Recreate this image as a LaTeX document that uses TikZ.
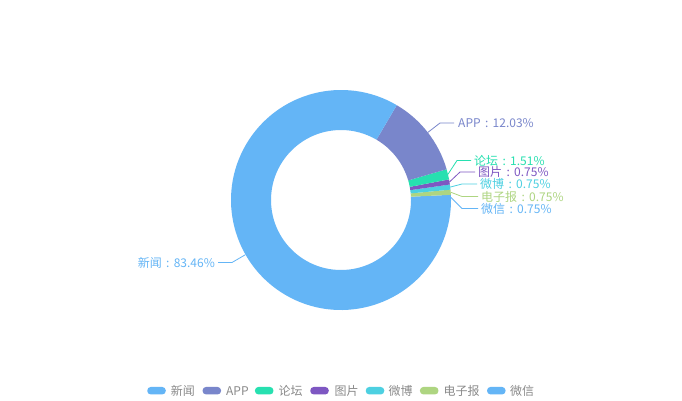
\documentclass[tikz,border=0pt]{standalone}
\usepackage{fontspec}
\usetikzlibrary{calc}
\setmainfont{Noto Sans CJK SC}
\definecolor{cXW}{HTML}{64B5F6}
\definecolor{cAPP}{HTML}{7986CB}
\definecolor{cLT}{HTML}{27E0B0}
\definecolor{cTP}{HTML}{7E57C2}
\definecolor{cWB}{HTML}{4DD0E1}
\definecolor{cDZB}{HTML}{AED581}
\definecolor{cWX}{HTML}{64B5F6}
\definecolor{legtext}{HTML}{8A8A8A}
\newcommand{\wcolon}{\makebox[12pt]{:}}
\begin{document}
\begin{tikzpicture}[x=1pt,y=1pt,
  lbl/.style={font=\fontsize{12}{14}\selectfont, inner sep=0pt},
  leader/.style={line width=0.8pt},
  legicon/.style={rounded corners=3.5pt, minimum width=18.5pt, minimum height=7.5pt, inner sep=0pt},
  legtxt/.style={font=\fontsize{12}{14}\selectfont, text=legtext, inner sep=0pt, anchor=west}]
\useasboundingbox (0,0) rectangle (682,400);
\fill[white] (0,0) rectangle (682,400);
\coordinate (c) at (341,200);
% slices: start angle, end angle
\foreach \a/\b/\col in {0/2.7/cWX, 2.7/5.4/cDZB, 5.4/8.1/cWB, 8.1/10.8/cTP, 10.8/16.236/cLT, 16.236/59.544/cAPP, 59.544/360/cXW}{
  \fill[\col] ($(c)+(\a:110)$) arc[start angle=\a, end angle=\b, radius=110] -- ($(c)+(\b:70)$) arc[start angle=\b, end angle=\a, radius=70] -- cycle;
}
% leader anchor points on outer edge
\coordinate (pAPP) at ($(c)+(37.89:110)$);
\coordinate (pLT) at ($(c)+(13.52:110)$);
\coordinate (pTP) at ($(c)+(9.45:110)$);
\coordinate (pWB) at ($(c)+(6.75:110)$);
\coordinate (pDZB) at ($(c)+(4.05:110)$);
\coordinate (pWX) at ($(c)+(1.35:110)$);
\coordinate (pXW) at ($(c)+(209.77:110)$);
% labels
\node[lbl, anchor=west, text=cAPP] (tAPP) at (458,277) {APP\wcolon 12.03\%};
\node[lbl, anchor=west, text=cLT] (tLT) at (474,239.5) {论坛\wcolon 1.51\%};
\node[lbl, anchor=west, text=cTP] (tTP) at (478,228) {图片\wcolon 0.75\%};
\node[lbl, anchor=west, text=cWB] (tWB) at (480,216) {微博\wcolon 0.75\%};
\node[lbl, anchor=west, text=cDZB] (tDZB) at (481,203.5) {电子报\wcolon 0.75\%};
\node[lbl, anchor=west, text=cWX] (tWX) at (481,191.5) {微信\wcolon 0.75\%};
\node[lbl, anchor=east, text=cXW] (tXW) at (215,137.5) {新闻\wcolon 83.46\%};
% leaders
\coordinate (kAPP) at (440,277); \coordinate (eAPP) at (454,277);
\coordinate (kLT) at (457,239.5); \coordinate (eLT) at (471,239.5);
\coordinate (kTP) at (460,228); \coordinate (eTP) at (475,228);
\coordinate (kWB) at (462,216); \coordinate (eWB) at (477,216);
\coordinate (kDZB) at (462,203.5); \coordinate (eDZB) at (478,203.5);
\coordinate (kWX) at (462,191.5); \coordinate (eWX) at (478,191.5);
\coordinate (kXW) at (232,137.5); \coordinate (eXW) at (218,137.5);
\draw[leader, cAPP] (pAPP) -- (kAPP) -- (eAPP);
\draw[leader, cLT] (pLT) -- (kLT) -- (eLT);
\draw[leader, cTP] (pTP) -- (kTP) -- (eTP);
\draw[leader, cWB] (pWB) -- (kWB) -- (eWB);
\draw[leader, cDZB] (pDZB) -- (kDZB) -- (eDZB);
\draw[leader, cWX] (pWX) -- (kWX) -- (eWX);
\draw[leader, cXW] (pXW) -- (kXW) -- (eXW);
% legend
\node[legicon, fill=cXW] (i1) at (156.5,9.3) {};
\node[legtxt] (l1) at (170.7,9.3) {新闻};
\node[legicon, fill=cAPP] (i2) at (211.8,9.3) {};
\node[legtxt] (l2) at (226,9.3) {APP};
\node[legicon, fill=cLT] (i3) at (264.2,9.3) {};
\node[legtxt] (l3) at (278.4,9.3) {论坛};
\node[legicon, fill=cTP] (i4) at (319.5,9.3) {};
\node[legtxt] (l4) at (334.3,9.3) {图片};
\node[legicon, fill=cWB] (i5) at (375,9.3) {};
\node[legtxt] (l5) at (388.5,9.3) {微博};
\node[legicon, fill=cDZB] (i6) at (429.2,9.3) {};
\node[legtxt] (l6) at (443.3,9.3) {电子报};
\node[legicon, fill=cWX] (i7) at (496.3,9.3) {};
\node[legtxt] (l7) at (510,9.3) {微信};
\end{tikzpicture}
\end{document}
